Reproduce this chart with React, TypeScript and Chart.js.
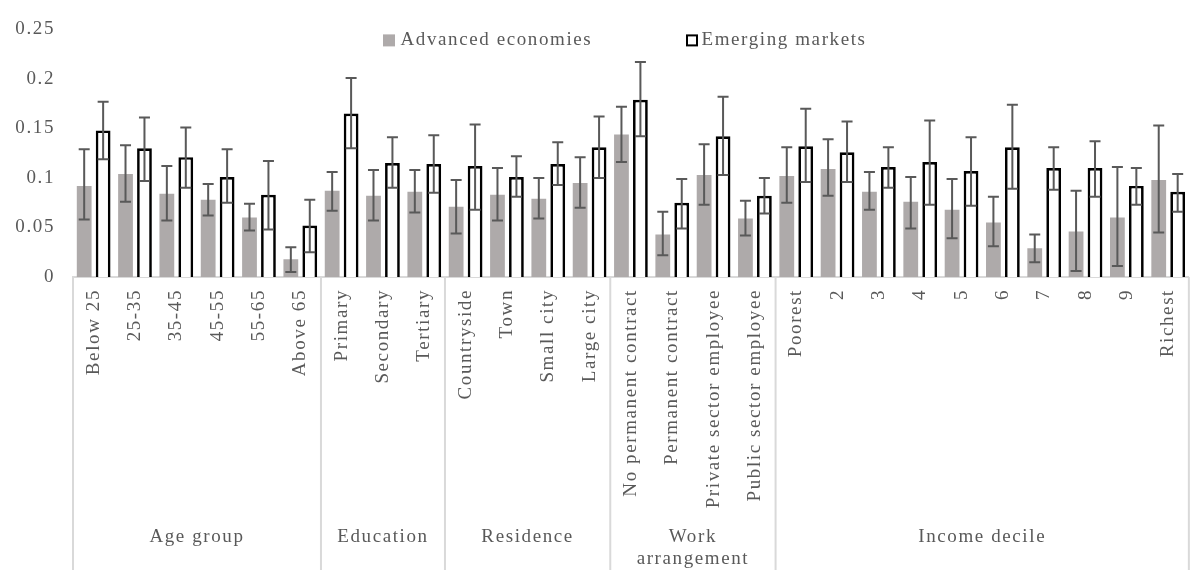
import React, { useEffect, useRef } from 'react';
import { Chart, registerables } from 'chart.js';

Chart.register(...registerables);

const categories = [
  'Below 25', '25-35', '35-45', '45-55', '55-65', 'Above 65',
  'Primary', 'Secondary', 'Tertiary',
  'Countryside', 'Town', 'Small city', 'Large city',
  'No permanent contract', 'Permanent contract', 'Private sector employee', 'Public sector employee',
  'Poorest', '2', '3', '4', '5', '6', '7', '8', '9', 'Richest',
];

const advanced = [0.092, 0.104, 0.084, 0.078, 0.060, 0.018, 0.087, 0.082, 0.086, 0.071, 0.083, 0.079, 0.095, 0.144, 0.043, 0.103, 0.059, 0.102, 0.109, 0.086, 0.076, 0.068, 0.055, 0.029, 0.046, 0.060, 0.098];
const advancedLow = [0.058, 0.076, 0.057, 0.062, 0.047, 0.005, 0.067, 0.057, 0.065, 0.044, 0.057, 0.059, 0.070, 0.116, 0.022, 0.073, 0.042, 0.075, 0.082, 0.068, 0.049, 0.039, 0.031, 0.015, 0.006, 0.011, 0.045];
const advancedHigh = [0.129, 0.133, 0.112, 0.094, 0.074, 0.030, 0.106, 0.108, 0.108, 0.098, 0.110, 0.100, 0.121, 0.172, 0.066, 0.134, 0.077, 0.131, 0.139, 0.106, 0.101, 0.099, 0.081, 0.043, 0.087, 0.111, 0.153];

const emerging = [0.148, 0.130, 0.121, 0.101, 0.083, 0.052, 0.165, 0.115, 0.114, 0.112, 0.101, 0.114, 0.131, 0.179, 0.075, 0.142, 0.082, 0.132, 0.126, 0.111, 0.116, 0.107, 0.131, 0.110, 0.110, 0.092, 0.086];
const emergingLow = [0.119, 0.097, 0.090, 0.075, 0.048, 0.025, 0.130, 0.090, 0.085, 0.068, 0.081, 0.093, 0.100, 0.142, 0.049, 0.103, 0.064, 0.096, 0.096, 0.090, 0.073, 0.072, 0.089, 0.088, 0.081, 0.073, 0.066];
const emergingHigh = [0.177, 0.161, 0.151, 0.129, 0.117, 0.078, 0.201, 0.141, 0.143, 0.154, 0.122, 0.136, 0.162, 0.217, 0.099, 0.182, 0.100, 0.170, 0.157, 0.131, 0.158, 0.141, 0.174, 0.131, 0.137, 0.110, 0.104];

const groupNames = [['Age group'], ['Education'], ['Residence'], ['Work', 'arrangement'], ['Income decile']];
const groupSizes = [6, 3, 4, 4, 10];

const yTickLabels = ['0', '0.05', '0.1', '0.15', '0.2', '0.25'];
const legendLabels = ['Advanced economies', 'Emerging markets'];

const FAMILY = '"Liberation Serif", "Times New Roman", serif';
const FONT_SIZE = 19;
const TEXT = '#595959';
const LETTER_SPACING = '1.6px';
const ADV_COLOR = '#aeaaaa';
const GRID_COLOR = '#d9d9d9';

export default function App() {
  const ref = useRef<HTMLCanvasElement>(null);

  useEffect(() => {
    const canvas = ref.current;
    if (!canvas) return;

    const spacing = {
      id: 'spacing',
      beforeUpdate(chart: any) { chart.ctx.letterSpacing = LETTER_SPACING; },
      beforeDraw(chart: any) { chart.ctx.letterSpacing = LETTER_SPACING; },
    };

    const errorBars = {
      id: 'errorBars',
      afterDatasetsDraw(chart: any) {
        const ctx = chart.ctx;
        const ys = chart.scales.y;
        const sets = [[advancedLow, advancedHigh], [emergingLow, emergingHigh]];
        ctx.save();
        ctx.strokeStyle = '#595959';
        ctx.lineWidth = 2;
        sets.forEach(([lo, hi], di) => {
          const meta = chart.getDatasetMeta(di);
          meta.data.forEach((bar: any, i: number) => {
            const x = bar.x;
            const y1 = ys.getPixelForValue(lo[i]);
            const y2 = ys.getPixelForValue(hi[i]);
            ctx.beginPath();
            ctx.moveTo(x, y1); ctx.lineTo(x, y2);
            ctx.moveTo(x - 5.5, y1); ctx.lineTo(x + 5.5, y1);
            ctx.moveTo(x - 5.5, y2); ctx.lineTo(x + 5.5, y2);
            ctx.stroke();
          });
        });
        ctx.restore();
      },
    };

    const decorations = {
      id: 'decorations',
      afterDraw(chart: any) {
        const ctx = chart.ctx;
        const xs = chart.scales.x;
        const area = chart.chartArea;
        ctx.save();
        ctx.letterSpacing = LETTER_SPACING;
        const bounds: number[] = [area.left];
        let acc = 0;
        groupSizes.forEach((n) => {
          acc += n;
          if (acc < categories.length) {
            bounds.push((xs.getPixelForValue(acc - 1) + xs.getPixelForValue(acc)) / 2);
          } else {
            bounds.push(area.right);
          }
        });
        ctx.strokeStyle = GRID_COLOR;
        ctx.lineWidth = 2;
        bounds.forEach((b) => {
          ctx.beginPath();
          ctx.moveTo(b, area.bottom);
          ctx.lineTo(b, chart.height);
          ctx.stroke();
        });
        ctx.fillStyle = TEXT;
        ctx.font = `${FONT_SIZE}px ${FAMILY}`;
        ctx.textAlign = 'center';
        ctx.textBaseline = 'middle';
        groupNames.forEach((lines, gi) => {
          const cx = (bounds[gi] + bounds[gi + 1]) / 2;
          lines.forEach((line, li) => {
            ctx.fillText(line, cx, area.bottom + 260 + li * 22);
          });
        });
        const lx = area.left + 310;
        const ly = area.top + 11;
        ctx.fillStyle = ADV_COLOR;
        ctx.fillRect(lx, ly - 6, 12, 12);
        ctx.fillStyle = TEXT;
        ctx.textAlign = 'left';
        ctx.fillText(legendLabels[0], lx + 17.5, ly);
        const lx2 = lx + 303;
        ctx.fillStyle = '#ffffff';
        ctx.fillRect(lx2, ly - 6, 12, 12);
        ctx.strokeStyle = '#000000';
        ctx.lineWidth = 2;
        ctx.strokeRect(lx2 + 1, ly - 5, 10, 10);
        ctx.fillStyle = TEXT;
        ctx.fillText(legendLabels[1], lx2 + 15.5, ly);
        ctx.restore();
      },
    };

    const font = { family: FAMILY, size: FONT_SIZE };

    const chart = new Chart(canvas, {
      type: 'bar',
      data: {
        labels: categories,
        datasets: [
          {
            label: legendLabels[0],
            data: advanced,
            backgroundColor: ADV_COLOR,
            borderWidth: 0,
            categoryPercentage: 0.917,
            barPercentage: 0.78,
          },
          {
            label: legendLabels[1],
            data: emerging,
            backgroundColor: '#ffffff',
            borderColor: '#000000',
            borderWidth: 2.7,
            categoryPercentage: 0.917,
            barPercentage: 0.78,
          },
        ],
      },
      options: {
        animation: false,
        responsive: false,
        devicePixelRatio: 1,
        layout: { padding: { top: 27, left: 0, right: 0, bottom: 0 } },
        plugins: {
          legend: { display: false },
          tooltip: { enabled: false },
        },
        scales: {
          x: {
            grid: { display: false, drawTicks: false },
            border: { display: true, color: GRID_COLOR, width: 2 },
            ticks: {
              autoSkip: false,
              minRotation: 90,
              maxRotation: 90,
              padding: 12,
              color: TEXT,
              font,
            },
            afterFit: (s: any) => { s.height = 293; },
          },
          y: {
            min: 0,
            max: 0.25,
            grid: { display: false, drawTicks: false },
            border: { display: false },
            ticks: {
              stepSize: 0.05,
              padding: 18,
              color: TEXT,
              font,
              callback: (v: any) => yTickLabels[Math.round(Number(v) / 0.05)],
            },
            afterFit: (s: any) => { s.width = 73; },
          },
        },
      },
      plugins: [spacing, errorBars, decorations],
    } as any);

    return () => chart.destroy();
  }, []);

  return (
    <div style={{ position: 'fixed', left: 0, top: 0, width: 1190, height: 570, overflow: 'hidden', background: '#ffffff' }}>
      <canvas ref={ref} width={1203} height={570} style={{ display: 'block', width: 1203, height: 570 }} />
    </div>
  );
}
